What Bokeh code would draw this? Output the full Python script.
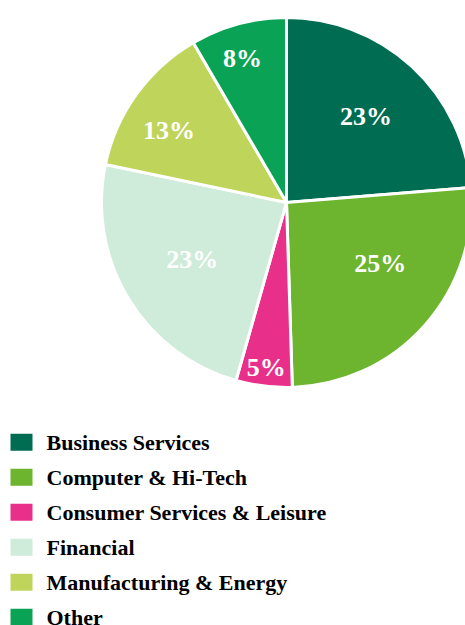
import math
from bokeh.plotting import figure
from bokeh.models import Range1d, ColumnDataSource
from bokeh.core.properties import value
from bokeh.embed import file_html
from bokeh.resources import INLINE

# ---- data ----
categories = ["Business Services", "Computer & Hi-Tech", "Consumer Services & Leisure",
              "Financial", "Manufacturing & Energy", "Other"]
shares = [23.7, 25.8, 4.9, 23.9, 13.3, 8.4]
share_labels = ["23%", "25%", "5%", "23%", "13%", "8%"]
colors = ["#006C51", "#6DB42F", "#E8308A", "#CFEBDA", "#BFD45B", "#0AA355"]

# ---- layout (page pixel coordinates; y = -page_y) ----
W, H = 465, 625
cx, cy, R = 286, -202, 185
label_r = [0.635, 0.605, 0.9, 0.595, 0.745, 0.815]
label_da = [0.0, -8.7, 0.0, 0.0, -4.4, -1.8]   # degrees tweak
serif = value("Liberation Serif")

p = figure(width=W, height=H, output_backend="svg", toolbar_location=None,
           x_range=Range1d(0, W), y_range=Range1d(-H, 0),
           min_border=0, outline_line_color=None)
p.axis.visible = False
p.grid.visible = False
p.background_fill_color = "white"
p.border_fill_color = "white"

total = sum(shares)
starts, ends, lx, ly = [], [], [], []
cum = 0.0
for i, s in enumerate(shares):
    a0 = cum / total * 2 * math.pi
    cum += s
    a1 = cum / total * 2 * math.pi
    starts.append(math.pi / 2 - a0)
    ends.append(math.pi / 2 - a1)
    mid = (a0 + a1) / 2 + math.radians(label_da[i])
    r = label_r[i] * R
    lx.append(cx + r * math.sin(mid))
    ly.append(cy + r * math.cos(mid))

src = ColumnDataSource(dict(start=starts, end=ends, color=colors,
                            lx=lx, ly=ly, lab=share_labels))
p.wedge(x=cx, y=cy, radius=R, start_angle="start", end_angle="end",
        direction="clock", fill_color="color", line_color="white",
        line_width=3, source=src)
p.text(x="lx", y="ly", text="lab", source=src, text_color="white",
       text_font=serif, text_font_style="bold", text_font_size="26px",
       text_align="center", text_baseline="middle")

# ---- legend ----
row0, step = 441.7, 35.0
leg = ColumnDataSource(dict(
    sx=[21] * len(categories),
    sy=[-(row0 + i * step) for i in range(len(categories))],
    tx=[46] * len(categories),
    ty=[-(row0 + i * step) for i in range(len(categories))],
    name=categories, color=colors))
p.rect(x="sx", y="sy", width=22, height=17, fill_color="color",
       line_color=None, source=leg)
p.text(x="tx", y="ty", text="name", source=leg, text_color="black",
       text_font=serif, text_font_style="bold", text_font_size="22px",
       text_align="left", text_baseline="middle")

open("out.html", "w").write(file_html(p, INLINE))
